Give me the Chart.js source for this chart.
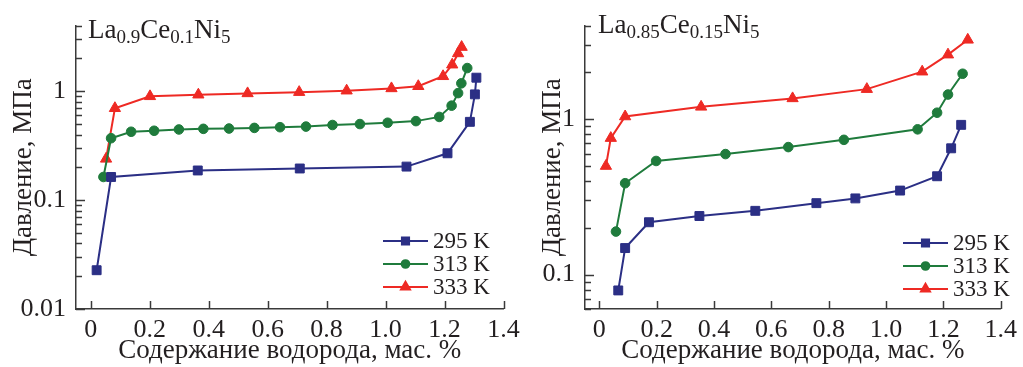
<!DOCTYPE html>
<html>
<head>
<meta charset="utf-8">
<script src="https://cdn.jsdelivr.net/npm/chart.js@4.4.1/dist/chart.umd.min.js"></script>
<style>
  body { margin: 0; background: #fff; }
  canvas { position: absolute; left: 0; top: 0; }
</style>
</head>
<body>
<canvas id="chartA" width="1023" height="367"></canvas>
<canvas id="chartB" width="1023" height="367"></canvas>
<script>
// La0.9Ce0.1Ni5 (left panel)
const a295x = [0.020, 0.069, 0.363, 0.709, 1.071, 1.210, 1.286, 1.303, 1.308];
const a295y = [0.0227, 0.163, 0.187, 0.195, 0.203, 0.269, 0.523, 0.935, 1.33];
const a313x = [0.043, 0.069, 0.137, 0.215, 0.299, 0.382, 0.469, 0.555, 0.642, 0.730, 0.820, 0.913, 1.007, 1.103, 1.182, 1.224, 1.246, 1.257, 1.277];
const a313y = [0.163, 0.370, 0.424, 0.433, 0.445, 0.451, 0.454, 0.460, 0.467, 0.473, 0.489, 0.499, 0.513, 0.531, 0.580, 0.736, 0.960, 1.18, 1.63];
const a333x = [0.052, 0.082, 0.201, 0.365, 0.532, 0.707, 0.868, 1.020, 1.111, 1.195, 1.226, 1.246, 1.258];
const a333y = [0.239, 0.697, 0.897, 0.928, 0.954, 0.980, 1.01, 1.06, 1.11, 1.37, 1.75, 2.22, 2.54];

// La0.85Ce0.15Ni5 (right panel)
const b295x = [0.066, 0.090, 0.173, 0.349, 0.544, 0.757, 0.893, 1.049, 1.178, 1.227, 1.262];
const b295y = [0.079, 0.148, 0.217, 0.238, 0.257, 0.288, 0.309, 0.347, 0.429, 0.649, 0.919];
const b313x = [0.058, 0.090, 0.198, 0.440, 0.659, 0.853, 1.110, 1.178, 1.216, 1.267];
const b313y = [0.189, 0.387, 0.538, 0.596, 0.661, 0.736, 0.860, 1.10, 1.44, 1.96];
const b333x = [0.023, 0.040, 0.090, 0.355, 0.674, 0.933, 1.126, 1.216, 1.285];
const b333y = [0.499, 0.755, 1.04, 1.20, 1.36, 1.56, 2.02, 2.60, 3.24];

const seriesLabels = ['295 K', '313 K', '333 K'];
const xTickValues = [0, 0.2, 0.4, 0.6, 0.8, 1.0, 1.2, 1.4];

const colors = ['#2b2f85', '#1f7b3c', '#ee2a24'];
const shapes = ['rect', 'circle', 'triangle'];
const radii = [6.3, 4.8, 6.5];
const serif = '"Liberation Serif", "Times New Roman", Tinos, "DejaVu Serif", serif';
const axisColor = '#3a3a3a';
const textColor = '#231f20';

function pairs(xs, ys) {
  return xs.map((x, i) => ({ x: x, y: ys[i] }));
}

function makeDataset(i, xs, ys) {
  return {
    label: seriesLabels[i],
    data: pairs(xs, ys),
    borderColor: colors[i],
    backgroundColor: colors[i],
    borderWidth: 2,
    pointStyle: shapes[i],
    pointRadius: radii[i],
    pointBorderWidth: 1,
    pointBorderColor: colors[i],
    pointBackgroundColor: colors[i],
    tension: 0
  };
}

// inward tick marks on both axes
const inwardTicks = {
  id: 'inwardTicks',
  afterDraw(chart) {
    const ctx = chart.ctx;
    const xs = chart.scales.x, ys = chart.scales.y;
    const area = chart.chartArea;
    ctx.save();
    ctx.strokeStyle = axisColor;
    ctx.lineWidth = 1.5;
    xs.ticks.forEach(t => {
      const px = Math.round(xs.getPixelForValue(t.value)) + 0.5;
      ctx.beginPath();
      ctx.moveTo(px, area.bottom);
      ctx.lineTo(px, area.bottom - 8);
      ctx.stroke();
    });
    ys.ticks.forEach(t => {
      const lg = Math.log10(t.value);
      const major = Math.abs(lg - Math.round(lg)) < 1e-6;
      const py = Math.round(ys.getPixelForValue(t.value)) + 0.5;
      ctx.beginPath();
      ctx.moveTo(area.left, py);
      ctx.lineTo(area.left + (major ? 9 : 6), py);
      ctx.stroke();
    });
    ctx.restore();
  }
};

// legend inside plot and composition label
const panelDecor = {
  id: 'panelDecor',
  afterDraw(chart, args, opts) {
    const ctx = chart.ctx;
    ctx.save();
    // composition label with subscripts
    let x = opts.titleX;
    const y = opts.titleY;
    ctx.fillStyle = textColor;
    ctx.textBaseline = 'alphabetic';
    ctx.textAlign = 'left';
    opts.title.forEach(part => {
      ctx.font = (part.sub ? '19px ' : '27px ') + serif;
      ctx.fillText(part.t, x, y + (part.sub ? 5 : 0));
      x += ctx.measureText(part.t).width;
    });
    // legend
    chart.data.datasets.forEach((ds, i) => {
      const ly = opts.legendY + i * 23;
      ctx.strokeStyle = ds.borderColor;
      ctx.lineWidth = 2;
      ctx.beginPath();
      ctx.moveTo(opts.legendX, ly);
      ctx.lineTo(opts.legendX + 45, ly);
      ctx.stroke();
      Chart.helpers.drawPoint(ctx, {
        pointStyle: ds.pointStyle,
        radius: ds.pointRadius * 0.8,
        borderWidth: 1
      }, opts.legendX + 22.5, ly);
      ctx.fillStyle = ds.backgroundColor;
      ctx.fill();
      ctx.fillStyle = textColor;
      ctx.font = '23px ' + serif;
      ctx.textBaseline = 'middle';
      ctx.fillText(ds.label, opts.legendX + 50, ly + 1);
    });
    ctx.restore();
  }
};

function logTicks(min, max) {
  const out = [];
  for (let e = -3; e <= 1; e++) {
    for (let m = 1; m <= 9; m++) {
      const v = parseFloat((m * Math.pow(10, e)).toPrecision(3));
      if (v >= min - 1e-9 && v <= max + 1e-9) out.push({ value: v });
    }
  }
  return out;
}

function buildChart(id, datasets, cfg) {
  const ctx = document.getElementById(id).getContext('2d');
  return new Chart(ctx, {
    type: 'line',
    data: { datasets: datasets },
    plugins: [inwardTicks, panelDecor],
    options: {
      responsive: false,
      animation: false,
      devicePixelRatio: 1,
      layout: { padding: { top: cfg.top, right: cfg.right, bottom: 0, left: cfg.left } },
      plugins: {
        legend: { display: false },
        tooltip: { enabled: false },
        panelDecor: cfg.decor
      },
      scales: {
        x: {
          type: 'linear',
          min: -0.05,
          max: 1.4,
          afterBuildTicks: s => { s.ticks = xTickValues.map(v => ({ value: v })); },
          afterFit: s => { s.height = 58; },
          grid: { display: false, drawTicks: false },
          border: { display: true, color: axisColor, width: 1.5 },
          ticks: {
            autoSkip: false,
            maxRotation: 0,
            padding: 6,
            color: textColor,
            font: { family: serif, size: 26 },
            callback: v => v === 0 ? '0' : v.toFixed(1)
          },
          title: {
            display: true,
            text: 'Содержание водорода, мас. %',
            color: textColor,
            font: { family: serif, size: 27 },
            padding: { top: 0, bottom: 0 }
          }
        },
        y: {
          type: 'logarithmic',
          min: cfg.ymin,
          max: 4,
          afterBuildTicks: s => { s.ticks = logTicks(cfg.ymin, 4); },
          afterFit: s => { s.width = cfg.yWidth; },
          grid: { display: false, drawTicks: false },
          border: { display: true, color: axisColor, width: 1.5 },
          ticks: {
            autoSkip: false,
            padding: 10,
            color: textColor,
            font: { family: serif, size: 26 },
            callback: v => {
              const lg = Math.log10(v);
              if (Math.abs(lg - Math.round(lg)) > 1e-6) return '';
              return String(v);
            }
          },
          title: {
            display: true,
            text: 'Давление, МПа',
            color: textColor,
            font: { family: serif, size: 27 },
            padding: { top: cfg.yTitlePad, bottom: 0 }
          }
        }
      }
    }
  });
}

function drawAll() {
  buildChart('chartA', [
    makeDataset(0, a295x, a295y),
    makeDataset(1, a313x, a313y),
    makeDataset(2, a333x, a333y)
  ], {
    left: 0, top: 16, right: 1023 - 503.5, ymin: 0.01, yWidth: 76, yTitlePad: 8,
    decor: {
      titleX: 88, titleY: 38,
      title: [{ t: 'La' }, { t: '0.9', sub: true }, { t: 'Ce' }, { t: '0.1', sub: true }, { t: 'Ni' }, { t: '5', sub: true }],
      legendX: 383, legendY: 241
    }
  });

  buildChart('chartB', [
    makeDataset(0, b295x, b295y),
    makeDataset(1, b313x, b313y),
    makeDataset(2, b333x, b333y)
  ], {
    left: 515, top: 12, right: 18, ymin: 0.06, yWidth: 70, yTitlePad: 22,
    decor: {
      titleX: 598, titleY: 33,
      title: [{ t: 'La' }, { t: '0.85', sub: true }, { t: 'Ce' }, { t: '0.15', sub: true }, { t: 'Ni' }, { t: '5', sub: true }],
      legendX: 903, legendY: 243
    }
  });
}

if (document.fonts && document.fonts.load) {
  Promise.all([
    document.fonts.load('24px "Liberation Serif"', 'Давление 0.1 La'),
    document.fonts.load('24px "Times New Roman"', 'Давление 0.1 La')
  ]).then(drawAll, drawAll);
} else {
  drawAll();
}
</script>
</body>
</html>
